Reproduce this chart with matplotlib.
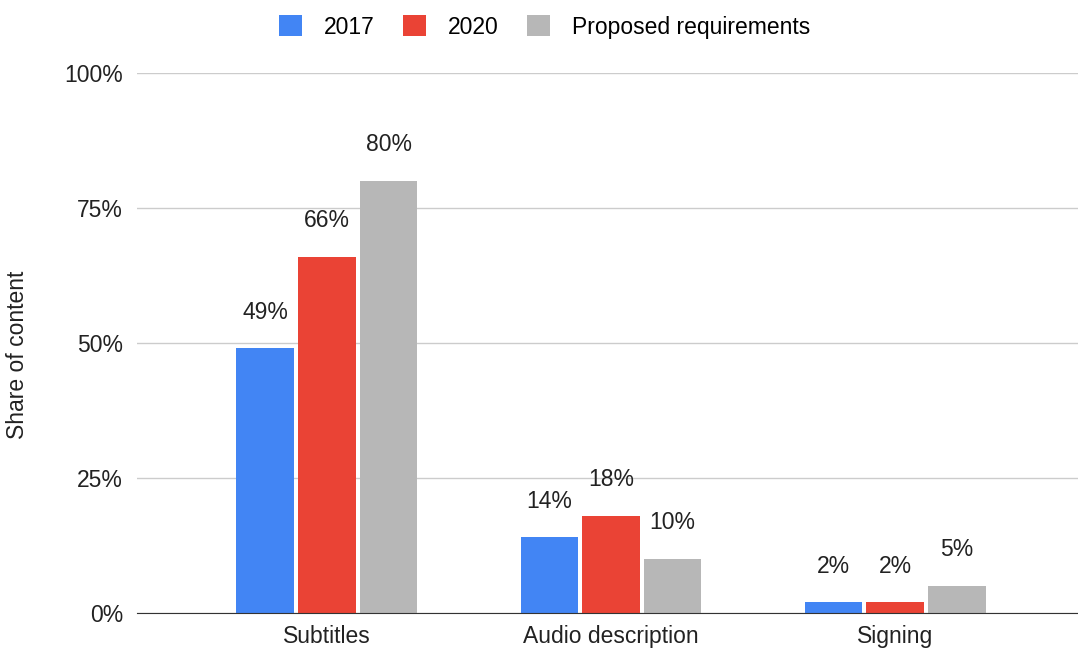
import matplotlib
matplotlib.use("Agg")
import matplotlib.pyplot as plt
import numpy as np
from matplotlib.ticker import FuncFormatter

plt.rcParams["font.family"] = ["Liberation Sans", "DejaVu Sans"]

categories = ["Subtitles", "Audio description", "Signing"]
series_names = ["2017", "2020", "Proposed requirements"]
values_2017 = [49, 14, 2]
values_2020 = [66, 18, 2]
values_proposed = [80, 10, 5]
colors = ["#4285F4", "#EA4335", "#B7B7B7"]

FS = 16.5
TEXT = "#222222"

fig = plt.figure(figsize=(10.78, 6.51), dpi=100)
ax = fig.add_axes([0.127, 0.0584, 0.873, 0.8296])

x = np.arange(len(categories))
width = 0.203
offsets = [-0.217, 0.0, 0.217]
all_values = [values_2017, values_2020, values_proposed]

for vals, off, col, name in zip(all_values, offsets, colors, series_names):
    bars = ax.bar(x + off, vals, width, color=col, label=name, zorder=3)
    for b, v in zip(bars, vals):
        ax.annotate(f"{v}%", (b.get_x() + b.get_width() / 2, v),
                    xytext=(0, 26), textcoords="offset points",
                    ha="center", va="center", fontsize=FS, color=TEXT)

ax.set_xlim(-0.669, 2.644)
ax.set_ylim(0, 100)
ax.set_yticks([0, 25, 50, 75, 100])
ax.yaxis.set_major_formatter(FuncFormatter(lambda v, _: f"{int(v)}%"))
ax.set_xticks(x)
ax.set_xticklabels(categories)
ax.tick_params(axis="both", length=0, labelsize=FS, colors=TEXT)
ax.tick_params(axis="x", pad=9)
ax.tick_params(axis="y", pad=10)
ax.grid(axis="y", color="#CCCCCC", linewidth=1, zorder=0)
for s in ["top", "right", "left"]:
    ax.spines[s].set_visible(False)
ax.spines["bottom"].set_color("#333333")
ax.spines["bottom"].set_zorder(4)

fig.text(18 / 1078, 1 - 355 / 651, "Share of content", rotation=90,
         ha="center", va="center", fontsize=FS, color=TEXT)

fig.legend(loc="upper center", bbox_to_anchor=(0.505, 1.008), ncol=3,
           frameon=False, fontsize=FS, handlelength=1.0, handleheight=1.0,
           columnspacing=1.25, handletextpad=0.95)

fig.savefig("out.png", dpi=100)
